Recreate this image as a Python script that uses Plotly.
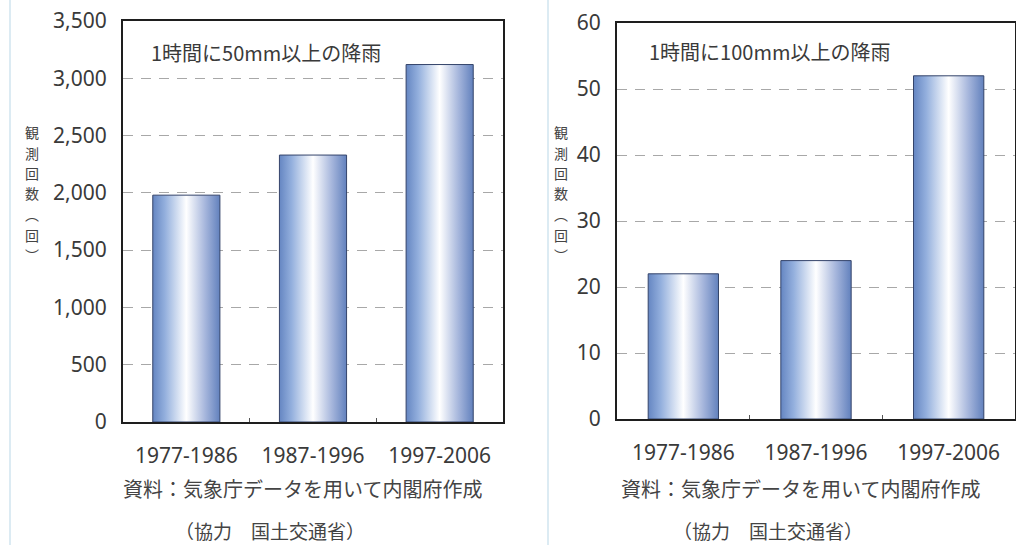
import plotly.graph_objects as go

# Observation counts of heavy hourly rainfall per decade
periods = ["1977-1986", "1987-1996", "1997-2006"]
count_50mm = [1980, 2330, 3120]
count_100mm = [22, 24, 52]

left_ticks = [0, 500, 1000, 1500, 2000, 2500, 3000, 3500]
right_ticks = [0, 10, 20, 30, 40, 50, 60]

title_50 = "1時間に50mm以上の降雨"
title_100 = "1時間に100mm以上の降雨"
y_title_chars = ["観", "測", "回", "数", "︵", "回", "︶"]
source_1 = "資料：気象庁データを用いて内閣府作成"
source_2 = "（協力　国土交通省）"

W, H = 1016, 545
BAR_W = 0.53
TEXT = "#3a3a3a"
SANS = "Noto Sans, Noto Sans CJK JP, sans-serif"
CJK = "Noto Sans CJK JP, sans-serif"

bar_scale = [[0.0, "#6586c2"], [0.18, "#93afdd"], [0.5, "#ffffff"],
             [0.78, "#a6b6dc"], [1.0, "#6281bd"]]


def px(x):
    return x / W


def py(y):
    return 1 - y / H


fig = go.Figure()


def add_bars(values, xa, ya):
    for i, v in enumerate(values):
        x0, x1 = i - BAR_W / 2, i + BAR_W / 2
        fig.add_trace(go.Scatter(
            x=[x0, x0, x1, x1, x0], y=[0, v, v, 0, 0],
            mode="lines", fill="toself",
            fillgradient=dict(type="horizontal", colorscale=bar_scale),
            line=dict(color="#34446a", width=1),
            xaxis=xa, yaxis=ya, hoverinfo="skip", showlegend=False))


add_bars(count_50mm, "x", "y")
add_bars(count_100mm, "x2", "y2")

frame = dict(showline=True, mirror=True, linecolor="#1e1e1e", linewidth=2,
             automargin=False)

xcommon = dict(
    tickmode="array", tickvals=list(range(len(periods))), ticktext=periods,
    range=[-0.5, len(periods) - 0.5], showgrid=False, zeroline=False,
    ticks="", ticklabelstandoff=14,
    tickfont=dict(family=SANS, size=21, color=TEXT),
    minor=dict(tickmode="array", tickvals=[0.5, 1.5], ticks="inside",
               ticklen=4, tickcolor="#555", showgrid=False),
    **frame)

ycommon = dict(
    showgrid=True, gridcolor="#a8a8a8", griddash="10px,8px", gridwidth=1,
    zeroline=False, ticks="", ticklabelstandoff=10,
    tickfont=dict(family=SANS, size=21, color=TEXT), **frame)

fig.update_layout(
    width=W, height=H, margin=dict(l=0, r=0, t=0, b=0),
    paper_bgcolor="white", plot_bgcolor="white",
    xaxis=dict(domain=[px(123), px(503)], anchor="y", **xcommon),
    yaxis=dict(domain=[py(422), py(21)], anchor="x", range=[0, 3500],
               tickvals=left_ticks, tickformat=",", **ycommon),
    xaxis2=dict(domain=[px(617), px(1015)], anchor="y2", **xcommon),
    yaxis2=dict(domain=[py(419), py(23)], anchor="x2", range=[0, 60],
                tickvals=right_ticks, **ycommon),
)

# Faint panel separators
for xs in (10, 548):
    fig.add_shape(type="line", xref="paper", yref="paper",
                  x0=px(xs), x1=px(xs), y0=0, y1=1,
                  line=dict(color="#dcebf3", width=2))


def note(text, x, y, size, color=TEXT, xanchor="center"):
    fig.add_annotation(text=text, x=px(x), y=py(y), xref="paper",
                       yref="paper", xanchor=xanchor, yanchor="middle",
                       showarrow=False, borderpad=0,
                       font=dict(family=CJK, size=size, color=color))


# Panel captions inside the frames
note(title_50, 150, 53, 20, xanchor="left")
note(title_100, 648, 51, 20, xanchor="left")

# Vertical axis titles, one character per line
for cx in (32, 561):
    for k, ch in enumerate(y_title_chars):
        note(ch, cx, 132 + k * 20.5, 14, color="#444")

# Data source lines under each panel
for cx in (302, 800):
    note(source_1, cx, 488, 20, color="#444")
for cx in (270, 768):
    note(source_2, cx, 530, 19, color="#444")

fig.write_html("out.html")
